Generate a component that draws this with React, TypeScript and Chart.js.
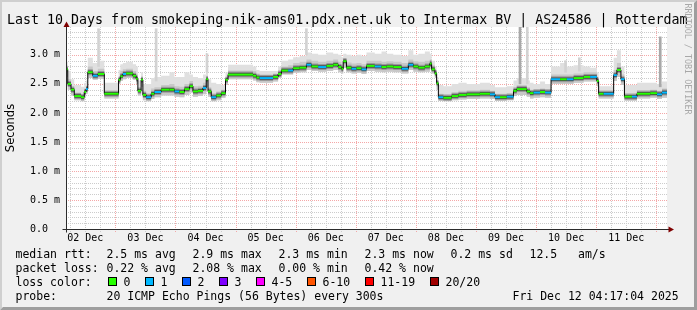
import React, { useEffect, useRef } from "react";
import { Chart, registerables } from "chart.js";

Chart.register(...registerables);

const W = 697;
const H = 310;

const TITLE = "Last 10 Days from smokeping-nik-ams01.pdx.net.uk to Intermax BV | AS24586 | Rotterdam";
const Y_AXIS_TITLE = "Seconds";
const WATERMARK = "RRDTOOL / TOBI OETIKER";

const DAY_LABELS = ["02 Dec", "03 Dec", "04 Dec", "05 Dec", "06 Dec", "07 Dec", "08 Dec", "09 Dec", "10 Dec", "11 Dec"];
const Y_LABEL_VALUES = [0, 0.5, 1, 1.5, 2, 2.5, 3];
const Y_LABELS = ["0.0  ", "0.5 m", "1.0 m", "1.5 m", "2.0 m", "2.5 m", "3.0 m"];
const Y_MAX = 3.48;
const RANGE_HOURS = 240;
const START_HOUR_OF_DAY = 4 + 17 / 60 + 4 / 3600;

// hours since start (Dec 2 04:17:04), median rtt (ms), loss bucket, smoke envelope (ms)
const HOURS = [
  0, 0.7, 2, 3.3, 6, 7.3, 8, 8.7, 10.7, 12.7, 15.3, 21, 21.7, 22.7, 24, 26.7, 28, 28.7, 30, 30.7,
  32, 34, 35.3, 38, 41.3, 43.3, 45.3, 47.3, 49.3, 50.7, 52.7, 54.7, 56, 56.7, 58, 60, 62, 63.7, 64.7, 74.7,
  76, 77.3, 82.7, 84.7, 86, 88.7, 90.7, 93.3, 96, 98, 100.7, 104, 106.7, 108.7, 110, 110.7, 112, 114, 116, 118,
  120, 123.3, 126, 128, 130.7, 134, 136.7, 138.7, 140.7, 143.3, 145.3, 146, 147.3, 148, 148.7, 150.7, 154, 156.7, 160, 165.3,
  169.3, 171.3, 173.3, 176, 178.7, 180, 184, 185.3, 186.7, 189.3, 191.3, 193.7, 197.3, 200, 202.7, 206.7, 209.3, 212, 212.7, 214.7,
  218.7, 220, 221.6, 223, 226, 228, 233.3, 236, 238,
];
const MEDIAN_MS = [
  2.75, 2.5, 2.4, 2.29, 2.27, 2.36, 2.41, 2.7, 2.64, 2.67, 2.33, 2.57, 2.63, 2.67, 2.68, 2.64, 2.59, 2.38, 2.57, 2.31,
  2.27, 2.33, 2.36, 2.4, 2.4, 2.37, 2.36, 2.41, 2.46, 2.37, 2.38, 2.43, 2.58, 2.37, 2.27, 2.3, 2.34, 2.57, 2.66, 2.64,
  2.61, 2.6, 2.62, 2.67, 2.73, 2.73, 2.77, 2.78, 2.83, 2.8, 2.79, 2.81, 2.83, 2.79, 2.76, 2.89, 2.78, 2.76, 2.77, 2.75,
  2.81, 2.8, 2.79, 2.8, 2.79, 2.76, 2.83, 2.8, 2.78, 2.8, 2.85, 2.75, 2.68, 2.51, 2.27, 2.26, 2.29, 2.31, 2.32, 2.33,
  2.32, 2.27, 2.27, 2.28, 2.38, 2.41, 2.37, 2.34, 2.35, 2.36, 2.35, 2.58, 2.58, 2.58, 2.6, 2.62, 2.62, 2.55, 2.33, 2.33,
  2.65, 2.74, 2.58, 2.28, 2.28, 2.33, 2.34, 2.32, 2.35,
];
const LOSS = [
  0, 0, 0, 0, 0, 0, 1, 0, 1, 0, 0, 0, 0, 1, 0, 0, 0, 0, 0, 0,
  1, 0, 1, 0, 0, 1, 0, 0, 0, 0, 0, 1, 0, 0, 1, 0, 0, 0, 0, 0,
  0, 1, 0, 0, 0, 1, 0, 0, 1, 0, 1, 0, 0, 0, 0, 0, 0, 1, 0, 1,
  0, 1, 0, 0, 0, 1, 1, 0, 0, 0, 0, 0, 0, 0, 1, 0, 0, 0, 0, 0,
  1, 1, 0, 1, 0, 0, 0, 0, 1, 0, 1, 1, 0, 1, 0, 0, 1, 0, 0, 1,
  1, 0, 1, 0, 1, 0, 0, 1, 1,
];
const SMOKE_LO = [
  2.62, 2.4, 2.3, 2.22, 2.2, 2.28, 2.33, 2.6, 2.57, 2.59, 2.25, 2.5, 2.55, 2.58, 2.6, 2.57, 2.5, 2.3, 2.45, 2.22,
  2.2, 2.24, 2.27, 2.3, 2.3, 2.28, 2.27, 2.31, 2.35, 2.28, 2.29, 2.32, 2.45, 2.28, 2.2, 2.22, 2.26, 2.48, 2.58, 2.56,
  2.53, 2.52, 2.54, 2.6, 2.66, 2.66, 2.69, 2.7, 2.74, 2.72, 2.71, 2.72, 2.74, 2.7, 2.68, 2.78, 2.7, 2.68, 2.69, 2.67,
  2.72, 2.71, 2.7, 2.71, 2.7, 2.68, 2.74, 2.71, 2.7, 2.71, 2.75, 2.68, 2.6, 2.4, 2.21, 2.2, 2.22, 2.23, 2.24, 2.25,
  2.24, 2.21, 2.21, 2.22, 2.29, 2.31, 2.28, 2.25, 2.26, 2.27, 2.26, 2.5, 2.5, 2.5, 2.52, 2.54, 2.54, 2.46, 2.25, 2.25,
  2.55, 2.62, 2.48, 2.21, 2.21, 2.25, 2.26, 2.24, 2.26,
];
const SMOKE_MID = [
  2.82, 2.58, 2.46, 2.35, 2.33, 2.42, 2.47, 2.8, 2.72, 2.76, 2.38, 2.62, 2.72, 2.75, 2.76, 2.72, 2.66, 2.44, 2.62, 2.38,
  2.34, 2.42, 2.44, 2.48, 2.5, 2.46, 2.45, 2.5, 2.55, 2.46, 2.47, 2.52, 2.64, 2.44, 2.34, 2.37, 2.4, 2.62, 2.73, 2.72,
  2.68, 2.66, 2.68, 2.74, 2.8, 2.82, 2.86, 2.88, 2.92, 2.9, 2.88, 2.9, 2.92, 2.88, 2.84, 2.94, 2.87, 2.85, 2.86, 2.84,
  2.9, 2.9, 2.88, 2.89, 2.88, 2.86, 2.92, 2.89, 2.88, 2.9, 2.92, 2.82, 2.74, 2.56, 2.33, 2.32, 2.36, 2.38, 2.39, 2.4,
  2.38, 2.33, 2.33, 2.34, 2.44, 2.48, 2.44, 2.4, 2.41, 2.42, 2.41, 2.66, 2.66, 2.66, 2.68, 2.7, 2.7, 2.62, 2.38, 2.38,
  2.74, 2.86, 2.66, 2.34, 2.34, 2.39, 2.4, 2.38, 2.42,
];
const SMOKE_HI = [
  2.88, 2.72, 2.58, 2.48, 2.45, 2.52, 2.56, 2.95, 2.86, 2.9, 2.52, 2.74, 2.84, 2.86, 2.88, 2.84, 2.8, 2.56, 2.7, 2.5,
  2.5, 2.6, 2.62, 2.64, 2.7, 2.62, 2.62, 2.7, 2.66, 2.62, 2.6, 2.66, 2.74, 2.58, 2.52, 2.5, 2.48, 2.7, 2.83, 2.8,
  2.74, 2.72, 2.72, 2.8, 2.9, 2.92, 2.96, 2.98, 3.04, 3.02, 3.0, 3.04, 3.02, 3.0, 2.96, 3.02, 3.0, 2.98, 3.0, 2.98,
  3.04, 3.02, 3.06, 3.02, 3.0, 2.98, 3.08, 3.0, 3.02, 3.06, 3.02, 2.9, 2.8, 2.62, 2.48, 2.46, 2.5, 2.52, 2.5, 2.52,
  2.48, 2.44, 2.44, 2.46, 2.56, 2.6, 2.56, 2.52, 2.5, 2.54, 2.5, 2.8, 2.86, 2.8, 2.82, 2.8, 2.78, 2.7, 2.46, 2.46,
  2.95, 3.08, 2.8, 2.48, 2.48, 2.52, 2.52, 2.5, 2.54,
];

// isolated tall outliers in the smoke
const SPIKE_HOURS = [13, 36, 56.3, 96, 181.3, 184.2, 199.5, 205, 237.3];
const SPIKE_LO = [2.8, 2.55, 2.7, 3.0, 2.5, 2.5, 2.7, 2.72, 2.45];
const SPIKE_HI = [3.45, 3.45, 3.02, 3.45, 3.48, 3.48, 2.9, 2.95, 3.31];
const SPIKE_DARK = [0, 0, 0, 0, 1, 0, 0, 0, 1];

const LOSS_LEGEND = ["0", "1", "2", "3", "4-5", "6-10", "11-19", "20/20"];
const LOSS_COLORS = ["#26ff00", "#00b8ff", "#0059ff", "#7e00ff", "#ff00ff", "#ff5500", "#ff0000", "#a00000"];

const RTT_LABEL = "median rtt:";
const RTT_STATS = ["2.5 ms avg", "2.9 ms max", "2.3 ms min", "2.3 ms now", "0.2 ms sd", "12.5   am/s"];
const LOSS_LABEL = "packet loss:";
const LOSS_STATS = ["0.22 % avg", "2.08 % max", "0.00 % min", "0.42 % now"];
const LOSS_COLOR_LABEL = "loss color:";
const PROBE_LABEL = "probe:";
const PROBE_TEXT = "20 ICMP Echo Pings (56 Bytes) every 300s";
const TIMESTAMP = "Fri Dec 12 04:17:04 2025";

// x ticks every 6 hours, aligned to wall-clock time
const X_TICKS: number[] = [];
const X_TICK_LABELS: string[] = [];
const X_TICK_MIDNIGHT: boolean[] = [];
for (let k = 1; 6 * k - START_HOUR_OF_DAY <= RANGE_HOURS; k++) {
  const clock = 6 * k;
  X_TICKS.push(clock - START_HOUR_OF_DAY);
  X_TICK_LABELS.push(clock % 24 === 12 ? DAY_LABELS[(clock - 12) / 24] ?? "" : "");
  X_TICK_MIDNIGHT.push(clock % 24 === 0);
}
const Y_TICKS: number[] = [];
for (let i = 0; i <= 34; i++) Y_TICKS.push(i / 10);

const GRID_GRAY = "#cccccc";
const GRID_RED = "#f4a8a8";
const AXIS = "#2c2c2c";
const ARROW = "#7f0000";
const MONO = "'DejaVu Sans Mono', monospace";

function stepPts(vals: number[]) {
  const pts = HOURS.map((h, i) => ({ x: h, y: vals[i] }));
  pts.push({ x: RANGE_HOURS, y: vals[vals.length - 1] });
  return pts;
}

// horizontal pieces of the median only (no vertical joins)
function flatPts() {
  const pts: { x: number; y: number | null }[] = [];
  HOURS.forEach((h, i) => {
    const nx = i + 1 < HOURS.length ? HOURS[i + 1] : RANGE_HOURS;
    pts.push({ x: h, y: MEDIAN_MS[i] }, { x: nx, y: MEDIAN_MS[i] }, { x: nx, y: null });
  });
  return pts;
}

const gridPlugin = {
  id: "rrdgrid",
  beforeDatasetsDraw(chart: any) {
    const { ctx, chartArea: a, scales } = chart;
    const xs = scales.x;
    const ys = scales.y;
    ctx.save();
    ctx.lineWidth = 1;
    ctx.setLineDash([1, 1]);
    Y_TICKS.forEach((v) => {
      if (v === 0) return;
      const py = Math.round(ys.getPixelForValue(v)) + 0.5;
      const major = Math.abs(v * 2 - Math.round(v * 2)) < 1e-6;
      ctx.strokeStyle = major ? GRID_RED : GRID_GRAY;
      ctx.beginPath();
      ctx.moveTo(a.left, py);
      ctx.lineTo(a.right, py);
      ctx.stroke();
    });
    X_TICKS.forEach((v, i) => {
      const px = Math.round(xs.getPixelForValue(v)) + 0.5;
      ctx.strokeStyle = X_TICK_MIDNIGHT[i] ? GRID_RED : GRID_GRAY;
      ctx.beginPath();
      ctx.moveTo(px, a.top);
      ctx.lineTo(px, a.bottom + 3);
      ctx.stroke();
    });
    ctx.restore();
  },
};

const decorPlugin = {
  id: "decor",
  beforeDraw(chart: any) {
    const { ctx, chartArea: a } = chart;
    ctx.save();
    ctx.fillStyle = "#f0f0f0";
    ctx.fillRect(0, 0, W, H);
    ctx.fillStyle = "#cfcfcf";
    ctx.beginPath();
    ctx.moveTo(0, 0); ctx.lineTo(W, 0); ctx.lineTo(W - 2, 2); ctx.lineTo(2, 2); ctx.lineTo(2, H - 2); ctx.lineTo(0, H);
    ctx.closePath(); ctx.fill();
    ctx.fillStyle = "#9e9e9e";
    ctx.beginPath();
    ctx.moveTo(W, 0); ctx.lineTo(W, H); ctx.lineTo(0, H); ctx.lineTo(3, H - 3); ctx.lineTo(W - 3, H - 3); ctx.lineTo(W - 3, 3);
    ctx.closePath(); ctx.fill();
    ctx.fillStyle = "#ffffff";
    ctx.fillRect(a.left, a.top, a.right - a.left, a.bottom - a.top);
    ctx.restore();
  },
  afterDraw(chart: any) {
    const { ctx, chartArea: a } = chart;
    ctx.save();
    // title
    ctx.fillStyle = "#000";
    ctx.textBaseline = "alphabetic";
    ctx.textAlign = "left";
    ctx.font = `13.3px ${MONO}`;
    ctx.fillText(TITLE, 7, 24);
    // axis extensions and arrows
    const ax = Math.round(a.left) + 0.5;
    const ay = Math.round(a.bottom) + 0.5;
    ctx.strokeStyle = AXIS;
    ctx.lineWidth = 1;
    ctx.beginPath();
    ctx.moveTo(ax - 4, ay); ctx.lineTo(a.right + 5, ay);
    ctx.moveTo(ax, ay + 3); ctx.lineTo(ax, a.top - 4);
    ctx.stroke();
    ctx.fillStyle = ARROW;
    ctx.beginPath();
    ctx.moveTo(ax - 3, a.top); ctx.lineTo(ax + 3, a.top); ctx.lineTo(ax, a.top - 5.5); ctx.closePath(); ctx.fill();
    ctx.beginPath();
    ctx.moveTo(a.right + 1.5, ay - 3); ctx.lineTo(a.right + 1.5, ay + 3); ctx.lineTo(a.right + 7, ay); ctx.closePath(); ctx.fill();
    // legend
    ctx.fillStyle = "#000";
    ctx.font = `11.5px ${MONO}`;
    const statX = [106.5, 192.5, 278.5, 364.5, 450.5, 529.5];
    ctx.fillText(RTT_LABEL, 15.5, 258);
    RTT_STATS.forEach((s, i) => ctx.fillText(s, statX[i], 258));
    ctx.fillText(LOSS_LABEL, 15.5, 272);
    LOSS_STATS.forEach((s, i) => ctx.fillText(s, statX[i], 272));
    ctx.fillText(LOSS_COLOR_LABEL, 15.5, 286);
    const boxX = [108, 145, 182, 219, 256, 307, 365, 430];
    LOSS_LEGEND.forEach((s, i) => {
      ctx.fillStyle = LOSS_COLORS[i];
      ctx.fillRect(boxX[i], 277, 9, 9);
      ctx.strokeStyle = "#000";
      ctx.strokeRect(boxX[i] + 0.5, 277.5, 8, 8);
      ctx.fillStyle = "#000";
      ctx.fillText(s, boxX[i] + 15.5, 286);
    });
    ctx.fillText(PROBE_LABEL, 15.5, 300);
    ctx.fillText(PROBE_TEXT, 106.5, 300);
    ctx.fillText(TIMESTAMP, 512.5, 300);
    // watermark
    ctx.translate(687.5, 59);
    ctx.rotate(Math.PI / 2);
    ctx.font = `8.4px ${MONO}`;
    ctx.fillStyle = "#a8a8a8";
    ctx.textAlign = "center";
    ctx.textBaseline = "middle";
    ctx.fillText(WATERMARK, 0, 0);
    ctx.restore();
  },
};

export default function App() {
  const ref = useRef<HTMLCanvasElement>(null);
  useEffect(() => {
    const noLine = { borderWidth: 0, borderColor: "transparent", pointRadius: 0, stepped: "before" as const };
    const chart = new Chart(ref.current!, {
      type: "line",
      data: {
        datasets: [
          { type: "line", label: "smoke lo", data: stepPts(SMOKE_LO), ...noLine, fill: false, order: 20 },
          { type: "line", label: "smoke hi", data: stepPts(SMOKE_HI), ...noLine, backgroundColor: "#e0e0e0", fill: { target: 0 }, order: 14 },
          { type: "line", label: "smoke mid", data: stepPts(SMOKE_MID), ...noLine, backgroundColor: "#c8c8c8", fill: { target: 0 }, order: 13 },
          {
            type: "bar", label: "spikes",
            data: SPIKE_HOURS.map((h, i) => ({ x: h, y: [SPIKE_LO[i], SPIKE_HI[i]] })) as any,
            backgroundColor: SPIKE_DARK.map((d) => (d ? "#a8a8a8" : "#d2d2d2")),
            barThickness: 2, grouped: false, borderWidth: 0, order: 12,
          } as any,
          { type: "line", label: "core", data: flatPts() as any, spanGaps: false, borderColor: "#9a9a9a", borderWidth: 6, borderCapStyle: "butt", pointRadius: 0, fill: false, order: 11 },
          { type: "line", label: "core dark", data: flatPts() as any, spanGaps: false, borderColor: "#4a4a4a", borderWidth: 3.5, borderCapStyle: "butt", pointRadius: 0, fill: false, order: 10 },
          { type: "line", label: "median", data: stepPts(MEDIAN_MS), stepped: "before", borderColor: "#000000", borderWidth: 1, pointRadius: 0, fill: false, order: 9 },
          {
            type: "line", label: "loss", data: flatPts() as any, borderWidth: 2, pointRadius: 0, fill: false, spanGaps: false,
            borderColor: LOSS_COLORS[0], borderCapStyle: "butt",
            segment: { borderColor: (c: any) => LOSS_COLORS[LOSS[Math.floor(c.p0DataIndex / 3)]] },
            order: 8,
          },
        ],
      },
      options: {
        responsive: false,
        animation: false,
        devicePixelRatio: 1,
        events: [],
        layout: { padding: { left: 0, top: 27, right: 30, bottom: 0 } },
        plugins: { legend: { display: false }, tooltip: { enabled: false }, title: { display: false } },
        scales: {
          x: {
            type: "linear", min: 0, max: RANGE_HOURS, offset: false,
            afterBuildTicks: (s: any) => { s.ticks = X_TICKS.map((v) => ({ value: v })); },
            afterFit: (s: any) => { s.height = H - 229; },
            ticks: {
              autoSkip: false, maxRotation: 0, minRotation: 0, padding: 3, color: "#000",
              font: { family: MONO, size: 10 },
              callback: (_v: any, i: number) => X_TICK_LABELS[i] ?? "",
            },
            grid: { display: false, drawTicks: false, tickLength: 0 },
            border: { display: true, color: AXIS, width: 1 },
          },
          y: {
            type: "linear", min: 0, max: Y_MAX,
            afterBuildTicks: (s: any) => { s.ticks = Y_TICKS.map((v) => ({ value: v })); },
            afterFit: (s: any) => { s.width = 66; },
            ticks: {
              autoSkip: false, padding: 6, color: "#000",
              font: { family: MONO, size: 10 },
              callback: (v: any) => {
                const k = Y_LABEL_VALUES.findIndex((t) => Math.abs(t - Number(v)) < 1e-6);
                return k >= 0 ? Y_LABELS[k] : "";
              },
            },
            grid: { display: false, drawTicks: false, tickLength: 0 },
            border: { display: true, color: AXIS, width: 1 },
            title: {
              display: true, text: Y_AXIS_TITLE, color: "#000",
              font: { family: "'DejaVu Sans', sans-serif", size: 11.5 },
              padding: { top: 4, bottom: 0 },
            },
          },
        },
      } as any,
      plugins: [decorPlugin, gridPlugin],
    });
    return () => chart.destroy();
  }, []);
  return (
    <div style={{ position: "absolute", left: 0, top: 0, width: W, height: H }}>
      <canvas ref={ref} width={W} height={H} style={{ display: "block", width: W, height: H }} />
    </div>
  );
}
